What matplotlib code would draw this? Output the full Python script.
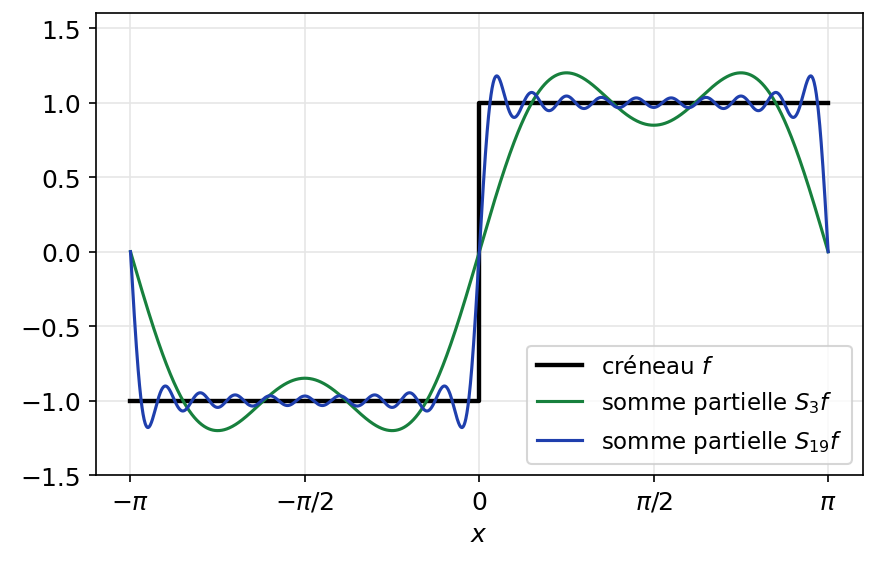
import numpy as np
import matplotlib
matplotlib.use("Agg")
import matplotlib.pyplot as plt

# ordres des sommes partielles tracées
ordres = [3, 19]
couleurs = ["#17803d", "#1f3fad"]
labels = [r"somme partielle $S_{3}f$", r"somme partielle $S_{19}f$"]

# créneau : -1 sur ]-pi,0[, +1 sur ]0,pi[
x_creneau = [-np.pi, 0, 0, np.pi]
y_creneau = [-1, -1, 1, 1]

def somme_partielle(x, n):
    # coefficients de Fourier du créneau : 4/(k*pi) pour k impair
    s = np.zeros_like(x)
    for k in range(1, n + 1, 2):
        s += 4 / (k * np.pi) * np.sin(k * x)
    return s

x = np.linspace(-np.pi, np.pi, 2000)

fig, ax = plt.subplots(figsize=(5.847, 3.793), dpi=150)
ax.plot(x_creneau, y_creneau, color="black", lw=2.1, label=r"créneau $f$")
for n, c, lab in zip(ordres, couleurs, labels):
    ax.plot(x, somme_partielle(x, n), color=c, lw=1.5, label=lab)

ax.set_xticks([-np.pi, -np.pi / 2, 0, np.pi / 2, np.pi])
ax.set_xticklabels([r"$-\pi$", r"$-\pi/2$", r"$0$", r"$\pi/2$", r"$\pi$"])
ax.set_ylim(-1.5, 1.6)
ax.set_yticks([-1.5, -1.0, -0.5, 0.0, 0.5, 1.0, 1.5])
ax.tick_params(labelsize=12)
ax.set_xlabel(r"$x$", fontsize=12)
ax.grid(True, color="#e6e6e6", lw=0.8)
ax.set_axisbelow(True)
ax.legend(loc="lower right", fontsize=11)

fig.subplots_adjust(left=0.109, right=0.984, top=0.975, bottom=0.163)
fig.savefig("out.png", dpi=150)
